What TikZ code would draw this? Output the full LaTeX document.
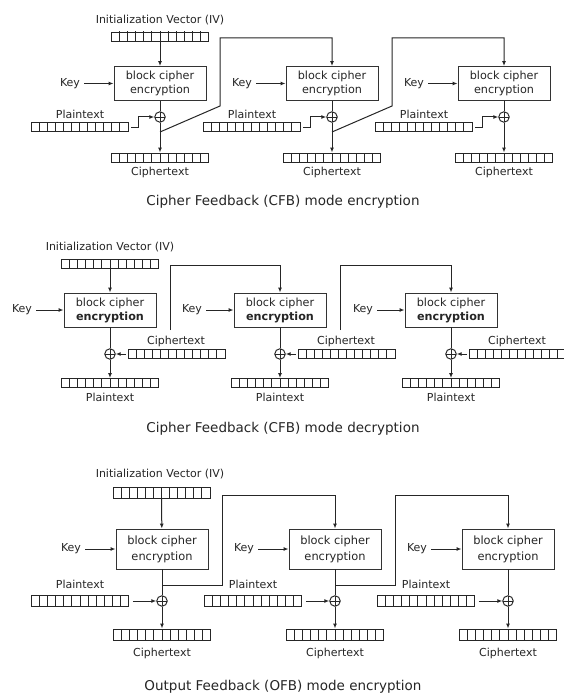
\documentclass[tikz,border=0pt]{standalone}
\usepackage{fontspec}
\setmainfont{DejaVu Sans}
\usetikzlibrary{arrows.meta,calc}
\begin{document}
\begin{tikzpicture}[x=1pt,y=-1pt,
  ink/.style={draw=black!85, line width=1pt},
  lbl/.style={text=black!85, font=\fontsize{11}{13}\selectfont, inner sep=0pt},
  cbox/.style={draw=black!80, line width=0.9pt, minimum width=92pt, minimum height=34pt, align=center, inner sep=0pt, text=black!85, font=\fontsize{11.2}{14}\selectfont},
  tallbox/.style={cbox, minimum height=40pt, font=\fontsize{11.4}{16}\selectfont},
  reg/.style={draw=black!85, line width=0.95pt, minimum width=97pt, minimum height=9pt, inner sep=0pt,
    path picture={\foreach \i in {1,...,11}{\draw[black!85,line width=0.95pt] ($(path picture bounding box.south west)+(\i*97pt/12,0pt)$) -- ++(0pt,20pt);}}},
  tallreg/.style={reg, minimum height=11pt},
  xor/.style={circle, draw=black!85, line width=0.95pt, minimum size=10.5pt, inner sep=0pt,
    path picture={\draw[black!85,line width=0.95pt] (path picture bounding box.north) -- (path picture bounding box.south) (path picture bounding box.west) -- (path picture bounding box.east);}},
  arr/.style={-{Latex[length=5pt,width=4pt]}, draw=black!85, line width=1pt},
  ttl/.style={text=black!85, font=\fontsize{13.5}{16}\selectfont, inner sep=0pt}
]
\useasboundingbox[fill=white] (0,0) rectangle (564,698);

% ---------------- Panel 1: CFB encryption ----------------
\node[lbl] (iv1) at (160,20) {Initialization Vector (IV)};
\node[reg] (ivr1) at (160,36.5) {};
\foreach \c/\n in {160/a,332/b,504/c}{
  \node[cbox] (e1\n) at (\c,83.5) {block cipher\\encryption};
  \node[lbl] (k1\n) at (\c-90,83.5) {Key};
  \draw[arr,shorten <=4pt] (k1\n) -- (e1\n);
  \node[lbl] (pl1\n) at (\c-80,114) {Plaintext};
  \node[reg] (pr1\n) at (\c-80.5,127) {};
  \node[xor] (x1\n) at (\c,117) {};
  \node[reg] (cr1\n) at (\c,157.5) {};
  \node[lbl] (cl1\n) at (\c,172) {Ciphertext};
  \draw[ink] (e1\n) -- (x1\n);
  \draw[arr] (x1\n) -- (cr1\n);
  \draw[arr,shorten <=3pt] (pr1\n.east) -- ++(10,0) -- ++(0,-10) -- (x1\n.west);
  \coordinate (f1\n) at (\c,132);
}
\draw[arr] (ivr1) -- (e1a);
\draw[arr] (f1a) -- ++(60,-26) -- ++(0,-68) -| (e1b.north);
\draw[arr] (f1b) -- ++(60,-26) -- ++(0,-68) -| (e1c.north);
\node[ttl] (t1) at (283,202) {Cipher Feedback (CFB) mode encryption};

% ---------------- Panel 2: CFB decryption ----------------
\node[lbl] (iv2) at (110,247) {Initialization Vector (IV)};
\node[reg] (ivr2) at (110,263.5) {};
\foreach \c/\n in {110/a,280/b,451/c}{
  \node[cbox] (e2\n) at (\c,310) {block cipher\\\textbf{encryption}};
  \node[lbl] (k2\n) at (\c-88,310) {Key};
  \draw[arr,shorten <=4pt] (k2\n) -- (e2\n);
  \node[xor] (x2\n) at (\c,354) {};
  \node[lbl] (cl2\n) at (\c+66,341) {Ciphertext};
  \node[reg] (cr2\n) at (\c+66.5,354) {};
  \draw[arr,shorten <=2pt] (cr2\n.west) -- (x2\n.east);
  \node[reg] (pr2\n) at (\c,383) {};
  \node[lbl] (pl2\n) at (\c,397) {Plaintext};
  \draw[ink] (e2\n) -- (x2\n);
  \draw[arr] (x2\n) -- (pr2\n);
  \coordinate (f2\n) at (\c+60,330);
}
\draw[arr] (ivr2) -- (e2a);
\draw[arr] (f2a) -- ++(0,-65) -| (e2b.north);
\draw[arr] (f2b) -- ++(0,-65) -| (e2c.north);
\node[ttl] (t2) at (283,429) {Cipher Feedback (CFB) mode decryption};

% ---------------- Panel 3: OFB encryption ----------------
\node[lbl] (iv3) at (160,474) {Initialization Vector (IV)};
\node[tallreg] (ivr3) at (161.5,493) {};
\foreach \c/\n in {162/a,335/b,508/c}{
  \node[tallbox] (e3\n) at (\c,549) {block cipher\\encryption};
  \node[lbl] (k3\n) at (\c-91,549) {Key};
  \draw[arr,shorten <=4pt] (k3\n) -- (e3\n);
  \node[lbl] (pl3\n) at (\c-82,584) {Plaintext};
  \node[tallreg] (pr3\n) at (\c-82,601) {};
  \node[xor] (x3\n) at (\c,601) {};
  \draw[arr,shorten <=4pt] (pr3\n.east) -- (x3\n.west);
  \node[tallreg] (cr3\n) at (\c,634.5) {};
  \node[lbl] (cl3\n) at (\c,653) {Ciphertext};
  \draw[ink] (e3\n) -- (x3\n);
  \draw[arr] (x3\n) -- (cr3\n);
  \coordinate (f3\n) at (\c,585);
}
\draw[arr] (ivr3) -- (e3a);
\draw[arr] (f3a) -- ++(60,0) -- ++(0,-90) -| (e3b.north);
\draw[arr] (f3b) -- ++(60,0) -- ++(0,-90) -| (e3c.north);
\node[ttl] (t3) at (283,687) {Output Feedback (OFB) mode encryption};
\end{tikzpicture}
\end{document}
